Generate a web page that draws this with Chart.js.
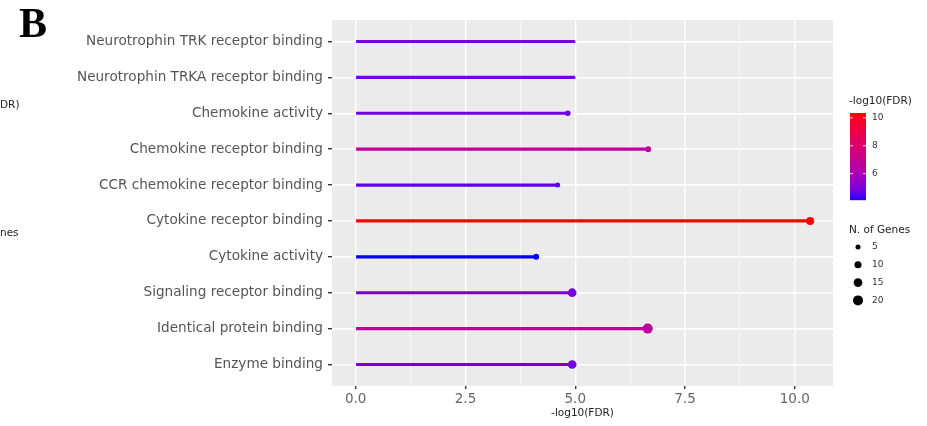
<!DOCTYPE html>
<html>
<head>
<meta charset="utf-8">
<script src="https://cdn.jsdelivr.net/npm/chart.js@4.4.1/dist/chart.umd.min.js"></script>
<style>
  body { margin: 0; background: #fff; }
  canvas { display: block; }
</style>
</head>
<body>
<canvas id="lollipop" width="927" height="426"></canvas>
<script>
// GO terms, top to bottom
const categories = [
  "Neurotrophin TRK receptor binding",
  "Neurotrophin TRKA receptor binding",
  "Chemokine activity",
  "Chemokine receptor binding",
  "CCR chemokine receptor binding",
  "Cytokine receptor binding",
  "Cytokine activity",
  "Signaling receptor binding",
  "Identical protein binding",
  "Enzyme binding"
];
const fdrScores = [4.97, 4.97, 4.83, 6.66, 4.60, 10.35, 4.11, 4.93, 6.65, 4.93];
const geneCounts = [2, 2, 6, 7, 5, 13, 7, 15, 20, 15];

const xTickValues = [0, 2.5, 5, 7.5, 10];
const xMinorValues = [1.25, 3.75, 6.25, 8.75];
const colorbarTicks = [6, 8, 10];
const sizeLegendCounts = [5, 10, 15, 20];

const GRAY = "#555555";
const FONT = "'DejaVu Sans', sans-serif";

// ggplot style blue -> red gradient, interpolated in Lab
function toLab(rgb) {
  const lin = c => { c /= 255; return c <= 0.04045 ? c / 12.92 : Math.pow((c + 0.055) / 1.055, 2.4); };
  const [R, G, B] = rgb.map(lin);
  const X = (0.4124 * R + 0.3576 * G + 0.1805 * B) / 0.95047;
  const Y = 0.2126 * R + 0.7152 * G + 0.0722 * B;
  const Z = (0.0193 * R + 0.1192 * G + 0.9505 * B) / 1.08883;
  const f = t => t > 0.008856 ? Math.cbrt(t) : 7.787 * t + 16 / 116;
  return [116 * f(Y) - 16, 500 * (f(X) - f(Y)), 200 * (f(Y) - f(Z))];
}
function fromLab([L, a, b]) {
  const fy = (L + 16) / 116, fx = fy + a / 500, fz = fy - b / 200;
  const inv = t => t * t * t > 0.008856 ? t * t * t : (t - 16 / 116) / 7.787;
  const X = inv(fx) * 0.95047, Y = inv(fy), Z = inv(fz) * 1.08883;
  const g = c => {
    c = c <= 0.0031308 ? 12.92 * c : 1.055 * Math.pow(c, 1 / 2.4) - 0.055;
    return Math.round(Math.max(0, Math.min(1, c)) * 255);
  };
  return `rgb(${g(3.2406 * X - 1.5372 * Y - 0.4986 * Z)},${g(-0.9689 * X + 1.8758 * Y + 0.0415 * Z)},${g(0.0557 * X - 0.2040 * Y + 1.0570 * Z)})`;
}
const labLow = toLab([0, 0, 255]);
const labHigh = toLab([255, 0, 0]);
const cMin = Math.min(...fdrScores);
const cMax = Math.max(...fdrScores);
function gradColor(v) {
  const t = Math.max(0, Math.min(1, (v - cMin) / (cMax - cMin)));
  return fromLab(labLow.map((l, i) => l + (labHigh[i] - l) * t));
}
const dotRadius = n => 1.12 * Math.sqrt(n);

const colors = fdrScores.map(gradColor);
const points = fdrScores.map((v, i) => ({ x: v, y: i }));

const panelAndLegends = {
  id: "panelAndLegends",
  beforeDraw(chart) {
    const { ctx, chartArea: a } = chart;
    ctx.save();
    ctx.fillStyle = "#ebebeb";
    ctx.fillRect(a.left, a.top, a.right - a.left, a.bottom - a.top);
    ctx.restore();
  },
  afterDraw(chart) {
    const ctx = chart.ctx;
    ctx.save();
    // panel letter
    ctx.fillStyle = "#000";
    ctx.font = "bold 42px 'Liberation Serif', serif";
    ctx.textBaseline = "alphabetic";
    ctx.fillText("B", 19, 37);

    // leftovers of the neighbouring panel's legend
    ctx.font = "10.5px " + FONT;
    ctx.fillStyle = "#222";
    ctx.textBaseline = "middle";
    ctx.fillText("DR)", 0, 105);
    ctx.fillText("nes", 0, 233);

    // colour bar
    ctx.fillText("-log10(FDR)", 849, 101);
    const bx = 850, bw = 16, top = 113, bot = 200;
    for (let y = top; y < bot; y++) {
      const v = cMax - (y - top) / (bot - top) * (cMax - cMin);
      ctx.fillStyle = gradColor(v);
      ctx.fillRect(bx, y, bw, 1.2);
    }
    ctx.font = "9px " + FONT;
    colorbarTicks.forEach(v => {
      const y = bot - (v - cMin) / (cMax - cMin) * (bot - top);
      ctx.strokeStyle = "#fff";
      ctx.lineWidth = 0.8;
      ctx.beginPath();
      ctx.moveTo(bx, y); ctx.lineTo(bx + 3, y);
      ctx.moveTo(bx + bw - 3, y); ctx.lineTo(bx + bw, y);
      ctx.stroke();
      ctx.fillStyle = "#333";
      ctx.fillText(String(v), 872, y);
    });

    // size legend
    ctx.font = "10.5px " + FONT;
    ctx.fillStyle = "#222";
    ctx.fillText("N. of Genes", 849, 230);
    ctx.font = "9px " + FONT;
    sizeLegendCounts.forEach((n, i) => {
      const y = 247 + i * 17.8;
      ctx.fillStyle = "#000";
      ctx.beginPath();
      ctx.arc(858, y, dotRadius(n), 0, Math.PI * 2);
      ctx.fill();
      ctx.fillStyle = "#333";
      ctx.fillText(String(n), 872, y);
    });
    ctx.restore();
  }
};

const isMajor = v => xTickValues.includes(v);

new Chart(document.getElementById("lollipop"), {
  type: "bar",
  data: {
    datasets: [
      {
        type: "bar",
        indexAxis: "y",
        data: points,
        backgroundColor: colors,
        barThickness: 2.5,
        borderWidth: 0,
        order: 2
      },
      {
        type: "scatter",
        data: points,
        pointRadius: geneCounts.map(dotRadius),
        pointBackgroundColor: colors,
        pointBorderWidth: 0,
        order: 1
      }
    ]
  },
  plugins: [panelAndLegends],
  options: {
    responsive: false,
    animation: false,
    layout: { padding: { top: 20, right: 94, left: 0, bottom: 0 } },
    plugins: { legend: { display: false }, tooltip: { enabled: false } },
    scales: {
      x: {
        type: "linear",
        position: "bottom",
        offset: false,
        min: -0.54,
        max: 10.87,
        afterBuildTicks: s => { s.ticks = xTickValues.concat(xMinorValues).sort((a, b) => a - b).map(v => ({ value: v })); },
        afterFit: s => { s.height = 40; },
        border: { display: false },
        grid: {
          offset: false,
          color: "#ffffff",
          lineWidth: c => (c.tick && isMajor(c.tick.value)) ? 1.4 : 0.6,
          tickColor: c => (c.tick && isMajor(c.tick.value)) ? "#333" : "rgba(0,0,0,0)",
          tickLength: 3
        },
        ticks: {
          autoSkip: false,
          maxRotation: 0,
          padding: 2,
          color: "#666",
          font: { family: FONT, size: 13.5 },
          callback: v => isMajor(v) ? v.toFixed(1) : ""
        },
        title: {
          display: true,
          text: "-log10(FDR)",
          color: "#222",
          font: { family: FONT, size: 10.5 },
          padding: { top: 0, bottom: 6 }
        }
      },
      y: {
        type: "linear",
        position: "left",
        offset: false,
        reverse: true,
        min: -0.6,
        max: 9.6,
        afterBuildTicks: s => { s.ticks = categories.map((c, i) => ({ value: i })); },
        afterFit: s => { s.width = 332; },
        border: { display: false },
        grid: { offset: false, color: "#ffffff", lineWidth: 1.4, tickColor: "#333", tickLength: 4 },
        ticks: {
          autoSkip: false,
          padding: 5,
          color: GRAY,
          font: { family: FONT, size: 13.6 },
          callback: v => categories[v]
        }
      }
    }
  }
});
</script>
</body>
</html>
